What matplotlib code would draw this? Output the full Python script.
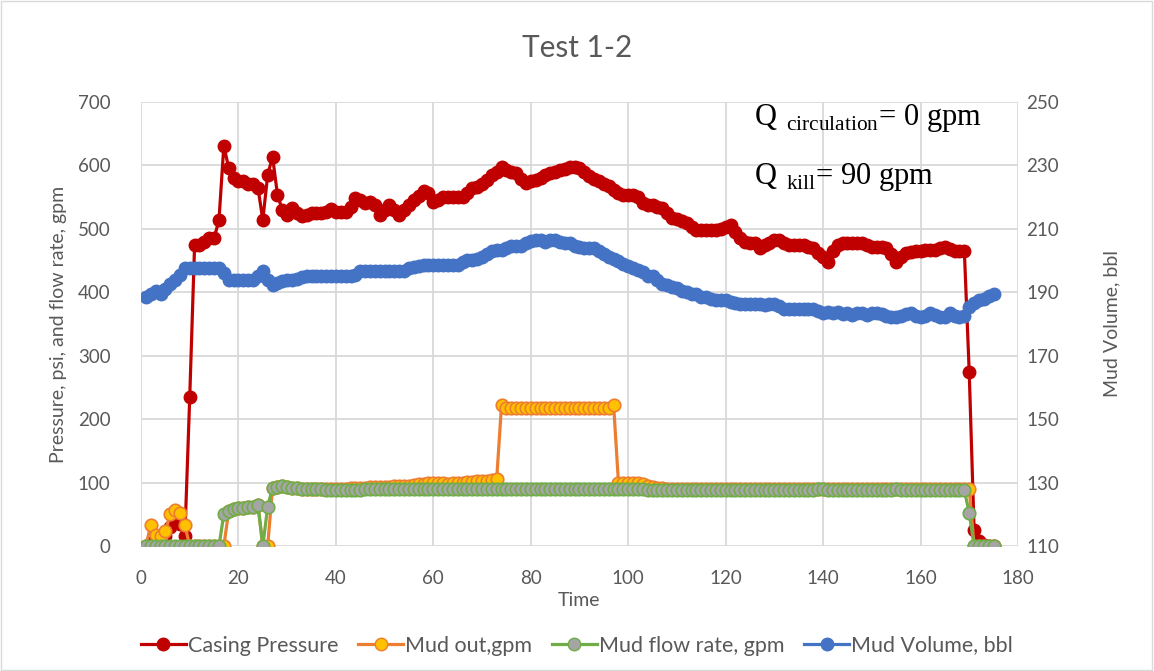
import matplotlib
matplotlib.use("Agg")
import matplotlib.pyplot as plt
import numpy as np
from matplotlib.lines import Line2D
from matplotlib.patches import Rectangle

plt.rcParams['font.family'] = ['Lato', 'DejaVu Sans']
plt.rcParams['mathtext.fontset'] = 'custom'
plt.rcParams['mathtext.rm'] = 'Liberation Serif'

# time, 1..175
time = np.arange(1, 176)

casing_pressure = [
    0, 5, 10, 5, 15, 30, 40, 35, 15, 235,
    475, 475, 480, 485, 485, 514, 631, 596, 580, 575,
    575, 570, 570, 565, 514, 585, 614, 554, 530, 522,
    533, 525, 520, 522, 525, 525, 525, 527, 531, 527,
    527, 527, 535, 549, 545, 540, 543, 538, 522, 530,
    538, 530, 522, 530, 538, 545, 552, 559, 556, 543,
    545, 551, 551, 551, 551, 551, 556, 564, 566, 570,
    577, 585, 590, 598, 593, 590, 588, 578, 572, 575,
    577, 580, 585, 588, 590, 592, 595, 598, 598, 596,
    590, 583, 578, 575, 570, 567, 562, 557, 554, 554,
    554, 550, 540, 538, 538, 535, 533, 525, 517, 515,
    512, 509, 503, 498, 498, 498, 498, 498, 500, 503,
    506, 495, 485, 480, 478, 478, 470, 475, 478, 483,
    483, 477, 475, 475, 475, 475, 472, 470, 462, 455,
    448, 465, 475, 477, 477, 477, 477, 477, 475, 472,
    472, 472, 470, 460, 448, 456, 462, 464, 465, 465,
    467, 467, 467, 470, 472, 468, 465, 465, 465, 274,
    25, 8, 2, 0, 0,
]

mud_out = [
    0, 33, 17, 15, 23, 50, 57, 52, 33, 0,
    0, 0, 0, 0, 0, 0, 0, 55, 58, 60,
    60, 61, 62, 65, 0, 0, 92, 93, 95, 93,
    92, 91, 90, 90, 90, 90, 90, 90, 90, 90,
    90, 90, 91, 91, 92, 92, 93, 93, 93, 93,
    93, 94, 94, 95, 95, 96, 97, 98, 99, 100,
    99, 99, 98, 99, 100, 100, 101, 101, 102, 102,
    103, 104, 105, 222, 218, 218, 218, 218, 218, 218,
    218, 218, 218, 218, 218, 218, 218, 218, 218, 218,
    218, 218, 218, 218, 218, 218, 223, 100, 100, 100,
    100, 100, 98, 95, 93, 92, 91, 90, 90, 90,
    90, 90, 90, 90, 90, 90, 90, 90, 90, 90,
    90, 90, 90, 90, 90, 90, 90, 90, 90, 90,
    90, 90, 90, 90, 90, 90, 90, 90, 90, 90,
    90, 90, 90, 90, 90, 90, 90, 90, 90, 90,
    90, 90, 90, 90, 90, 90, 90, 90, 90, 90,
    90, 90, 90, 90, 90, 90, 90, 90, 90, 90,
    0, 0, 0, 0, 0,
]

mud_flow_rate = [
    0, 0, 0, 0, 0, 0, 0, 0, 0, 0,
    0, 0, 0, 0, 0, 0, 50, 55, 58, 60,
    60, 61, 62, 65, 0, 62, 92, 93, 95, 93,
    92, 91, 90, 90, 90, 90, 90, 89, 89, 89,
    89, 89, 89, 89, 89, 90, 90, 90, 90, 90,
    90, 90, 90, 90, 90, 90, 90, 90, 90, 90,
    90, 90, 90, 90, 90, 90, 90, 90, 90, 90,
    90, 90, 90, 90, 90, 90, 90, 90, 90, 90,
    90, 90, 90, 90, 90, 90, 90, 90, 90, 90,
    90, 90, 90, 90, 90, 90, 90, 90, 90, 90,
    90, 90, 90, 89, 89, 89, 89, 89, 89, 89,
    89, 89, 89, 89, 89, 89, 89, 89, 89, 89,
    89, 89, 89, 89, 89, 89, 89, 89, 89, 89,
    89, 89, 89, 89, 89, 89, 89, 89, 90, 90,
    89, 89, 89, 89, 89, 89, 89, 89, 89, 89,
    89, 89, 89, 89, 90, 89, 89, 89, 89, 89,
    89, 89, 89, 89, 89, 89, 89, 89, 88, 52,
    0, 0, 0, 0, 0,
]

mud_volume = [
    188.6, 189.5, 190.5, 189.4, 191.0, 192.5, 194.0, 195.5, 197.5, 197.6,
    197.6, 197.6, 197.6, 197.6, 197.6, 197.6, 196.0, 194.0, 194.0, 194.0,
    194.0, 194.0, 194.0, 195.0, 196.6, 194.0, 192.4, 193.0, 193.6, 194.0,
    194.0, 194.3, 194.8, 195.0, 195.0, 195.0, 195.0, 195.0, 195.0, 195.0,
    195.0, 195.0, 195.0, 195.4, 196.6, 196.6, 196.6, 196.6, 196.6, 196.6,
    196.6, 196.6, 196.6, 196.8, 197.6, 198.0, 198.3, 198.6, 198.6, 198.6,
    198.6, 198.6, 198.6, 198.6, 198.6, 199.4, 200.2, 200.2, 200.6, 201.2,
    202.2, 203.0, 203.4, 203.4, 204.0, 204.6, 204.6, 204.6, 205.4, 206.2,
    206.6, 206.6, 205.8, 206.6, 206.4, 205.8, 205.6, 205.4, 204.6, 204.2,
    204.0, 204.0, 204.0, 203.0, 202.0, 201.0, 200.5, 199.8, 199.0, 198.3,
    197.6, 197.0, 196.4, 195.2, 195.0, 194.0, 192.6, 192.2, 191.6, 191.2,
    190.5, 190.2, 189.6, 189.3, 188.4, 188.4, 188.0, 187.5, 187.6, 187.6,
    187.0, 186.6, 186.4, 186.4, 186.4, 186.4, 186.4, 186.0, 186.4, 186.2,
    185.6, 184.6, 184.6, 184.6, 184.6, 184.6, 184.6, 184.6, 184.0, 183.4,
    183.8, 183.4, 183.8, 183.2, 183.4, 182.8, 183.4, 183.4, 182.8, 183.4,
    183.4, 183.0, 182.4, 182.2, 182.2, 182.6, 183.0, 183.4, 182.6, 182.2,
    182.6, 183.4, 182.8, 182.2, 182.2, 183.4, 182.4, 182.2, 182.6, 185.4,
    186.6, 187.6, 188.0, 188.8, 189.6,
]

grey_txt = '#595959'
grid_c = '#d9d9d9'

fig = plt.figure(figsize=(11.54, 6.71), dpi=100)
ax = fig.add_axes([0.1222, 0.1863, 0.7599, 0.6617])
ax2 = ax.twinx()

ms = 9
lw = 2.3
ax.plot(time, casing_pressure, color='#C00000', lw=lw, marker='o', ms=ms,
        mfc='#C00000', mec='#C00000', zorder=3)
ax.plot(time, mud_out, color='#ED7D31', lw=lw, marker='o', ms=ms,
        mfc='#FFC000', mec='#ED7D31', mew=1.2, zorder=4)
ax.plot(time, mud_flow_rate, color='#70AD47', lw=lw, marker='o', ms=ms,
        mfc='#A5A5A5', mec='#70AD47', mew=1.2, zorder=5)
ax2.plot(time, mud_volume, color='#4472C4', lw=lw, marker='o', ms=ms,
         mfc='#4472C4', mec='#4472C4')

ax.set_xlim(0, 180)
ax.set_ylim(0, 700)
ax2.set_ylim(110, 250)
ax.set_xticks(np.arange(0, 181, 20))
ax.set_yticks(np.arange(0, 701, 100))
ax2.set_yticks(np.arange(110, 251, 20))

ax.grid(True, color=grid_c, lw=1.3)
ax.set_axisbelow(True)
for a in (ax, ax2):
    for s in a.spines.values():
        s.set_visible(False)
    a.tick_params(length=0, labelsize=13.5, colors=grey_txt)
ax.tick_params(axis='x', pad=17)
ax.tick_params(axis='y', pad=22)
ax2.tick_params(axis='y', pad=6)

ax.set_xlabel('Time', fontsize=14, color=grey_txt, labelpad=4)
ax.set_ylabel('Pressure, psi, and flow rate, gpm', fontsize=14, color=grey_txt, labelpad=8)
ax2.set_ylabel('Mud Volume, bbl', fontsize=14, color=grey_txt, labelpad=32)

fig.text(0.5, 0.928, 'Test 1-2', ha='center', va='center', fontsize=21.5, color=grey_txt)

ax.text(0.699, 0.965, r'Q$\ _{\rm circulation}$= 0 gpm', transform=ax.transAxes,
        fontsize=22, family='Liberation Serif', color='black', va='center')
ax.text(0.699, 0.83, r'Q$\ _{\rm kill}$= 90 gpm', transform=ax.transAxes,
        fontsize=22, family='Liberation Serif', color='black', va='center')

handles = [
    Line2D([], [], color='#C00000', lw=lw, marker='o', ms=ms, mfc='#C00000', mec='#C00000'),
    Line2D([], [], color='#ED7D31', lw=lw, marker='o', ms=ms, mfc='#FFC000', mec='#ED7D31'),
    Line2D([], [], color='#70AD47', lw=lw, marker='o', ms=ms, mfc='#A5A5A5', mec='#70AD47'),
    Line2D([], [], color='#4472C4', lw=lw, marker='o', ms=ms, mfc='#4472C4', mec='#4472C4'),
]
labels = ['Casing Pressure', 'Mud out,gpm', 'Mud flow rate, gpm', 'Mud Volume, bbl']
leg = fig.legend(handles, labels, loc='center', bbox_to_anchor=(0.5, 0.038), ncol=4,
                 frameon=False, fontsize=15.5, handlelength=2.1, handletextpad=0.1,
                 columnspacing=0.9)
for t in leg.get_texts():
    t.set_color(grey_txt)

fig.patches.append(Rectangle((0.001, 0.001), 0.997, 0.997, transform=fig.transFigure,
                             fill=False, edgecolor=grid_c, lw=1))

fig.savefig('out.png', dpi=100)
